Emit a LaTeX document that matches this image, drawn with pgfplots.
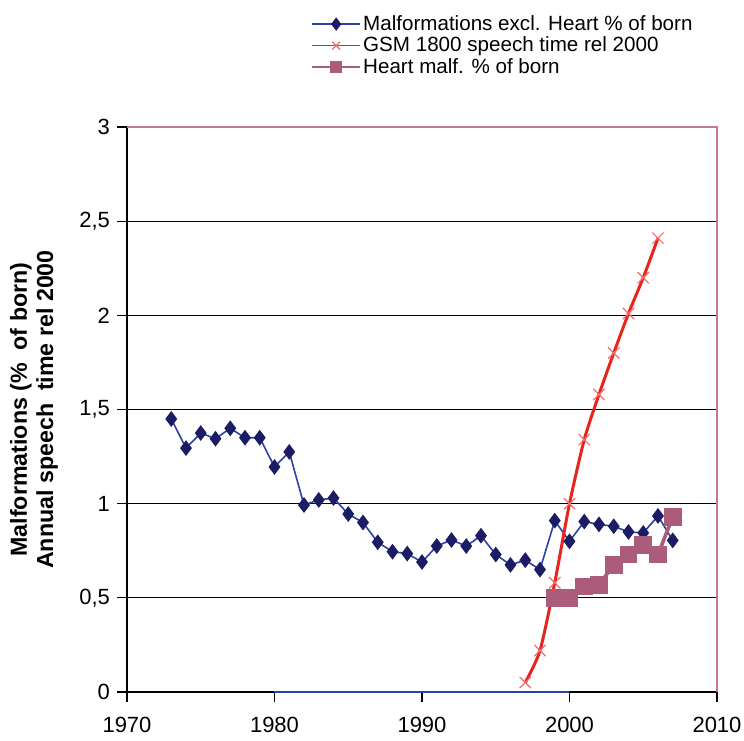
\documentclass[border=0pt]{standalone}
\usepackage{fontspec}
\setmainfont{Liberation Sans}
\usepackage{pgfplots}
\pgfplotsset{compat=1.18}
\definecolor{navymark}{RGB}{28,28,100}
\definecolor{navyline}{RGB}{45,65,165}
\definecolor{gsmred}{RGB}{232,36,28}
\definecolor{gsmcross}{RGB}{242,110,110}
\definecolor{mauve}{RGB}{170,92,122}
\definecolor{frame}{RGB}{196,120,150}

\begin{document}
\begin{tikzpicture}
\begin{axis}[
    scale only axis,
    width=295pt, height=282.5pt,
    xmin=1970, xmax=2010,
    ymin=0, ymax=3,
    xtick={1970,1980,...,2010},
    ytick={0,0.5,...,3},
    axis lines*=left,
    axis line style={black, line width=0.6pt},
    tick align=outside,
    major tick length=5pt,
    tick style={black, line width=0.6pt},
    ymajorgrids,
    grid style={black, line width=0.6pt},
    clip=false,
    /pgf/number format/assume math mode=true,
    /pgf/number format/use comma,
    /pgf/number format/1000 sep={},
    tick label style={font=\fontsize{11}{13}\selectfont},
    xticklabel style={inner sep=1pt, yshift=-6.3pt},
    ylabel={Malformations (\%~~of born)\\Annual speech~~time rel 2000},
    ylabel style={at={(axis description cs:-0.105,0.5)}, anchor=south,
                  align=center, font=\fontsize{11.6}{13.2}\selectfont\bfseries},
    legend style={at={(0.302,1.21)}, anchor=north west, draw=none, fill=none,
                  font=\fontsize{10.3}{11.5}\selectfont, row sep=-0.6pt,
                  nodes={inner sep=1.2pt}},
    legend cell align=left,
    every legend image post/.style={line width=0.7pt, mark size=2.8pt},
    legend image code/.code={
        \draw[mark repeat=2,mark phase=2] plot coordinates {(0cm,0cm) (0.42cm,0cm) (0.84cm,0cm)};
    },
]
\coordinate (O) at (rel axis cs:0,0);
\coordinate (T) at (rel axis cs:1,1);

% Malformations excl. heart
\addplot[navyline, line width=0.8pt, mark=diamond*, mark size=3.3pt,
         mark options={draw=navymark, fill=navymark}] coordinates {
(1973,1.45) (1974,1.295) (1975,1.375) (1976,1.345) (1977,1.40) (1978,1.35)
(1979,1.35) (1980,1.195) (1981,1.275) (1982,0.993) (1983,1.02) (1984,1.03)
(1985,0.945) (1986,0.90) (1987,0.795) (1988,0.745) (1989,0.735) (1990,0.69)
(1991,0.775) (1992,0.807) (1993,0.775) (1994,0.83) (1995,0.73) (1996,0.675)
(1997,0.70) (1998,0.65) (1999,0.91) (2000,0.80) (2001,0.905) (2002,0.89)
(2003,0.88) (2004,0.85) (2005,0.845) (2006,0.935) (2007,0.805)
};
\addlegendentry{Malformations excl. Heart \% of born}

% GSM 1800 speech time
\addplot[gsmred, line width=1.5pt, smooth, tension=0.4, mark=x, mark size=4pt,
         mark options={draw=gsmcross, line width=0.6pt}] coordinates {
(1997,0.05) (1998,0.22) (1999,0.58) (2000,1.00) (2001,1.34) (2002,1.58)
(2003,1.80) (2004,2.01) (2005,2.20) (2006,2.41)
};
\addlegendentry{GSM 1800 speech time rel 2000}

% Heart malformations
\addplot[mauve, line width=1.8pt, mark=square*, mark size=4.2pt,
         mark options={draw=mauve, fill=mauve, line width=0pt}] coordinates {
(1999,0.50) (2000,0.50) (2001,0.56) (2002,0.57) (2003,0.675) (2004,0.73)
(2005,0.78) (2006,0.73) (2007,0.93)
};
\addlegendentry{Heart malf. \% of born}

% zero values along the base line
\addplot[navyline, line width=0.8pt, forget plot] coordinates {(1980,0) (2000,0)};

\draw[frame, line width=0.9pt] (rel axis cs:0,1) -- (rel axis cs:1,1) -- (rel axis cs:1,0);
\end{axis}
\path ([shift={(-63.5pt,-24pt)}]O) rectangle ([shift={(13.5pt,63.5pt)}]T);
\end{tikzpicture}
\end{document}
